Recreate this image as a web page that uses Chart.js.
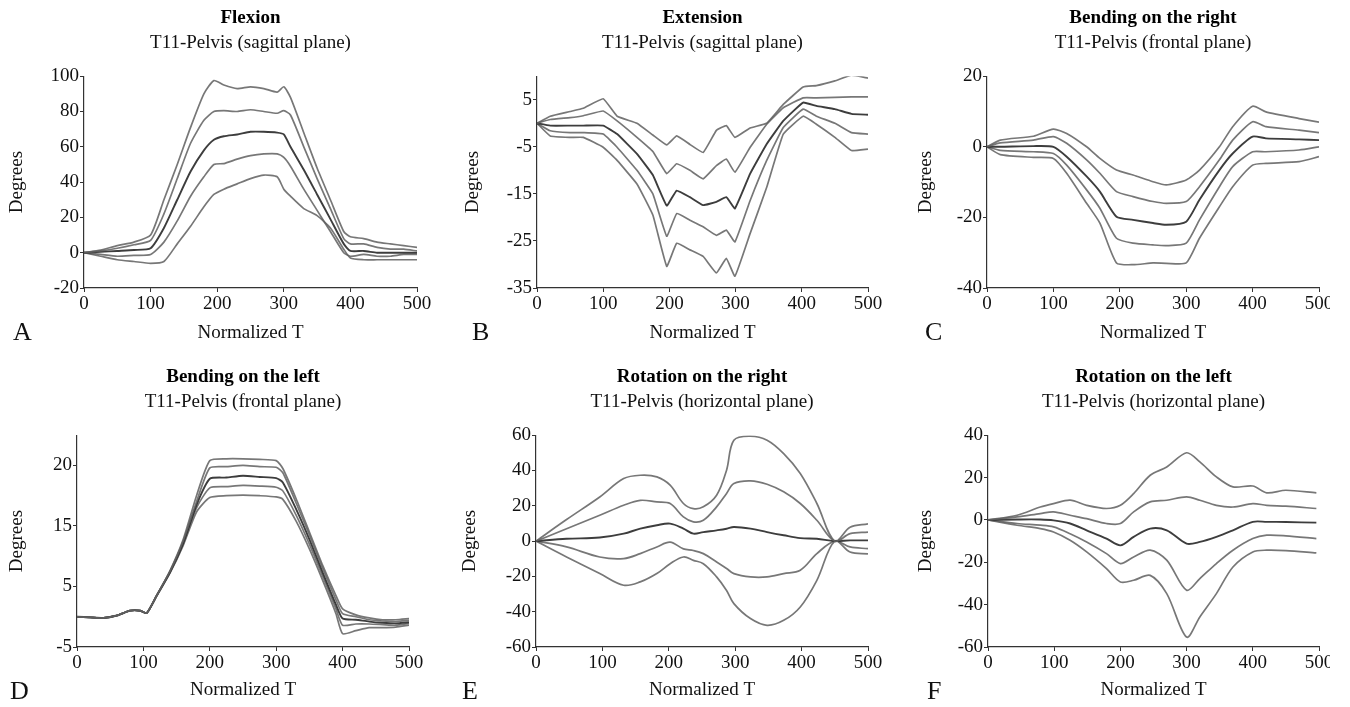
<!DOCTYPE html>
<html>
<head>
<meta charset="utf-8">
<script src="https://cdn.jsdelivr.net/npm/chart.js@4.4.0/dist/chart.umd.min.js"></script>
<style>
  body { margin: 0; background: #fff; }
  #fig { position: relative; width: 1350px; height: 707px; overflow: hidden; font-family: 'Liberation Serif', serif; }
  .panel { position: absolute; }
  .tag { position: absolute; font-size: 26px; line-height: 26px; color: #111; }
</style>
</head>
<body>
<div id="fig"></div>
<script>
// A - Flexion
var xA = [0, 25, 50, 75, 100, 120, 140, 160, 180, 195, 210, 230, 250, 270, 290, 300, 310, 330, 350, 370, 390, 400, 420, 440, 460, 480, 500];
var a1 = [0, 1.5, 4, 6, 10, 30, 50, 71, 90, 97.5, 95, 93, 94, 93, 91, 94, 88, 68, 48, 30, 12, 9, 8, 6, 5, 4, 3];
var a2 = [0, 1, 2.5, 4.5, 7, 22, 42, 62, 75, 80, 80.5, 80, 81, 80, 79, 80.5, 78, 60, 42, 25, 8, 5, 5, 3, 2, 2, 1];
var a3 = [0, 0.5, 1, 1.5, 2.5, 14, 30, 46, 58, 64, 66, 67, 68.5, 68.5, 68, 67, 60, 47, 33, 19, 5, 1, 1, 0, 0, 0, 0];
var a4 = [0, -1, -2, -1.5, -1, 6, 18, 32, 43, 50, 50.5, 53, 55, 56, 56, 54, 49, 36, 24, 12, 0, -2, -1, -2, -2, -1, -1];
var a5 = [0, -2, -4, -5, -6, -5, 5, 15, 26, 33, 36, 39, 42, 44, 43, 36, 32, 25, 21, 14, 2, -3, -4, -4, -4, -4, -4];

// B - Extension
var xB = [0, 20, 50, 70, 100, 121, 151, 175, 196, 211, 231, 251, 271, 286, 299, 322, 347, 372, 402, 422, 450, 475, 500];
var b1 = [0, 1.5, 2.5, 3.2, 5.2, 1.5, 0, -2.5, -4.6, -2.7, -4.5, -6.2, -1.5, -0.5, -3, -1, 0, 4, 7.7, 8, 9, 10.2, 9.6];
var b2 = [0, 0.8, 1.2, 1.6, 2.6, 0.5, -3, -6, -10.7, -8.6, -10, -11.8, -9, -7.6, -10.4, -5.1, -0.2, 3.3, 5.4, 5.4, 5.5, 5.6, 5.6];
var b3 = [0, -0.5, -0.5, -0.5, -0.5, -2.3, -6.5, -11, -17.5, -14.3, -15.7, -17.4, -16.7, -15.7, -18.1, -10.7, -4.4, 0.5, 4.4, 3.7, 3, 2, 1.8];
var b4 = [0, -1.6, -2, -2, -2.3, -5.1, -10, -15, -24, -19.2, -20.6, -22, -23.8, -22.7, -25.2, -16.4, -7.9, -0.9, 3, 1.5, 0, -2, -2.3];
var b5 = [0, -2.7, -3, -3, -5.1, -7.9, -12.9, -19.5, -30.4, -25.5, -26.9, -28.3, -31.8, -28.7, -32.5, -23.4, -13.6, -2.3, 1.5, -0.2, -3, -5.8, -5.5];
var bTicks = [-35, -25, -15, -5, 5];

// C - Bending on the right
var xC = [0, 20, 70, 100, 120, 150, 170, 195, 220, 250, 270, 300, 320, 350, 370, 400, 420, 470, 500];
var c1 = [0, 1.9, 3, 5, 3.8, 0, -3.3, -6.6, -8, -9.9, -10.8, -9.4, -6.6, 0, 5.7, 11.5, 9.9, 8, 7];
var c2 = [0, 1.1, 1.9, 2.9, 1, -3.7, -7.5, -12.7, -14.1, -15.5, -16, -15.5, -11.3, -3.7, 1.9, 7.1, 5.7, 4.7, 4];
var c3 = [0, 0, 0.2, 0, -2.8, -8.4, -12.7, -19.8, -20.7, -21.6, -22.1, -21.2, -15, -6.6, -1.9, 2.9, 2.4, 2.1, 1.9];
var c4 = [0, -1, -1.4, -1.9, -5.2, -12.2, -17.4, -25.9, -27.3, -27.8, -28, -27.3, -20.7, -11.3, -5.6, -1.4, -1.4, -0.9, 0];
var c5 = [0, -2.2, -3, -3.3, -7.5, -16, -21.6, -32.9, -33.4, -32.9, -33, -32.9, -25.9, -17, -11.3, -5.2, -4.7, -4.2, -2.8];

// D - Bending on the left (axis labels as printed in the source figure)
var xD = [0, 20, 40, 60, 80, 95, 105, 120, 140, 160, 180, 200, 225, 250, 275, 300, 310, 330, 350, 370, 390, 400, 420, 440, 460, 480, 500];
var d1 = [0, -0.1, -0.2, 0.2, 1, 1, 0.6, 3.5, 7.6, 12.8, 20, 25.8, 26.1, 26.1, 26, 25.8, 24.5, 19.5, 14, 8.5, 3.5, 1.3, 0.3, -0.2, -0.5, -0.5, -0.3];
var d2 = [0, -0.1, -0.2, 0.2, 1, 1, 0.6, 3.5, 7.5, 12.5, 19, 24.6, 24.8, 25, 24.8, 24.7, 23.8, 18.8, 13.5, 8, 2.8, 0.5, 0, -0.5, -0.7, -0.8, -0.6];
var d3 = [0, -0.1, -0.2, 0.2, 1, 1, 0.6, 3.5, 7.4, 12.2, 18.5, 22.8, 23, 23.3, 23.1, 22.9, 22.2, 17.8, 12.8, 7.3, 2, -0.3, -0.5, -0.8, -1, -1.1, -0.9];
var d4 = [0, -0.1, -0.2, 0.2, 1, 1, 0.6, 3.5, 7.3, 12, 18, 21.3, 21.5, 21.7, 21.6, 21.4, 20.8, 16.8, 12, 6.7, 1.3, -1.4, -1.2, -1.2, -1.3, -1.4, -1.1];
var d5 = [0, -0.1, -0.2, 0.2, 1, 1, 0.6, 3.4, 7.2, 11.8, 17.3, 19.7, 20, 20.1, 20, 19.8, 19.4, 15.8, 11.2, 6, 0.5, -2.8, -2.3, -1.8, -1.8, -1.7, -1.4];
var dTicks = [-5, 5, 15, 25];
var dTickLabels = ['-5', '5', '15', '20'];

// E - Rotation on the right
var xE = [0, 46, 96, 132, 157, 182, 202, 222, 237, 252, 272, 287, 298, 323, 348, 373, 398, 423, 450, 473, 500];
var e1 = [0, 12.2, 25, 35.4, 37.3, 36.4, 31.7, 21.3, 18.4, 19.4, 26, 40.2, 57.2, 59.4, 57.2, 49.6, 38.3, 21.3, 0, 7.9, 9.8];
var e2 = [0, 7, 14.6, 20.3, 23.1, 22.2, 21.3, 13.7, 10.9, 11.8, 19.4, 27, 32.6, 34.1, 32.2, 27.9, 21.3, 11.8, 0, 4.2, 5.1];
var e3 = [0, 1.3, 2, 4.2, 7.1, 9, 9.9, 7.1, 4.2, 5.1, 6.1, 7, 8, 7.1, 5.1, 3.3, 1.7, 1.3, 0, 0.4, 0.4];
var e4 = [0, -3.3, -9, -9.9, -7.1, -3.3, -0.6, -4.4, -5.3, -7.1, -11.8, -15.5, -18.4, -20.3, -20.3, -18.4, -16.5, -7.1, 0, -3.3, -4.3];
var e5 = [0, -9, -18.4, -25, -23.1, -18.4, -12.8, -9, -10.9, -12.8, -20.3, -28, -35.4, -43.9, -47.7, -44.9, -37.3, -22.2, 0, -6.2, -7.2];

// F - Rotation on the left
var xF = [0, 44, 79, 99, 124, 149, 179, 200, 220, 245, 270, 300, 320, 345, 370, 400, 421, 450, 496];
var f1 = [0, 2.2, 6.1, 7.7, 9.3, 6.9, 5.4, 6.9, 12.4, 21.1, 25, 31.7, 27.4, 20.3, 15.6, 16, 12.8, 14, 12.8];
var f2 = [0, 1.4, 3, 3.8, 2.2, 0.6, -1.7, -1.7, 3.8, 8.5, 9.3, 10.9, 9.3, 6.9, 6.1, 7.7, 6.9, 6.5, 5.4];
var f3 = [0, 0.2, 0.2, -0.2, -1.7, -4.9, -8.8, -12, -8, -4.1, -4.9, -11.2, -10.4, -8, -4.9, -0.9, -0.9, -1, -1.3];
var f4 = [0, -1.7, -2.5, -3.3, -6.5, -10.4, -15.9, -20.6, -17.5, -14.3, -19, -33.2, -27.7, -20.6, -14.3, -8.8, -7.2, -7.5, -8.8];
var f5 = [0, -2.5, -4.1, -5.7, -9.6, -15.1, -23, -29.3, -28.5, -26.2, -34.8, -55.3, -45.8, -34.8, -22.2, -15.1, -14.3, -14.5, -15.6];

var panels = [
  { tag: 'A', title: 'Flexion', sub: 'T11-Pelvis (sagittal plane)', x: xA, series: [a1, a2, a3, a4, a5],
    yMin: -20, yMax: 100, yStep: 20, tension: 0.2,
    left: 0, top: 0, w: 450, h: 350, plotLeft: 84, plotRight: 417, degX: 17, tagX: 13 },
  { tag: 'B', title: 'Extension', sub: 'T11-Pelvis (sagittal plane)', x: xB, series: [b1, b2, b3, b4, b5],
    yMin: -35, yMax: 10, yTicks: bTicks, tension: 0.1,
    left: 450, top: 0, w: 450, h: 350, plotLeft: 87, plotRight: 418, degX: 23, tagX: 22 },
  { tag: 'C', title: 'Bending on the right', sub: 'T11-Pelvis (frontal plane)', x: xC, series: [c1, c2, c3, c4, c5],
    yMin: -40, yMax: 20, yStep: 20, tension: 0.2,
    left: 900, top: 0, w: 430, h: 350, plotLeft: 87, plotRight: 419, degX: 26, tagX: 25 },
  { tag: 'D', title: 'Bending on the left', sub: 'T11-Pelvis (frontal plane)', x: xD, series: [d1, d2, d3, d4, d5],
    yMin: -5, yMax: 30, yTicks: dTicks, yLabels: dTickLabels, tension: 0.2,
    left: 0, top: 359, w: 450, h: 348, plotLeft: 77, plotRight: 409, degX: 17, tagX: 10 },
  { tag: 'E', title: 'Rotation on the right', sub: 'T11-Pelvis (horizontal plane)', x: xE, series: [e1, e2, e3, e4, e5],
    yMin: -60, yMax: 60, yStep: 20, tension: 0.35,
    left: 450, top: 359, w: 450, h: 348, plotLeft: 86, plotRight: 418, degX: 20, tagX: 12 },
  { tag: 'F', title: 'Rotation on the left', sub: 'T11-Pelvis (horizontal plane)', x: xF, series: [f1, f2, f3, f4, f5],
    yMin: -60, yMax: 40, yStep: 20, tension: 0.3,
    left: 900, top: 359, w: 430, h: 348, plotLeft: 88, plotRight: 419, degX: 26, tagX: 27 }
];

Chart.defaults.font.family = "'Liberation Serif', 'Times New Roman', serif";
Chart.defaults.color = '#111';

var PLOT_BOTTOM = 288; // bottom of plot inside each panel
var fig = document.getElementById('fig');

function toPoints(xs, ys) {
  return xs.map(function (x, i) { return { x: x, y: ys[i] }; });
}

panels.forEach(function (p) {
  var box = document.createElement('div');
  box.className = 'panel';
  box.style.left = p.left + 'px';
  box.style.top = p.top + 'px';
  box.style.width = p.w + 'px';
  box.style.height = p.h + 'px';
  var canvas = document.createElement('canvas');
  canvas.width = p.w;
  canvas.height = p.h;
  box.appendChild(canvas);
  fig.appendChild(box);

  var tag = document.createElement('div');
  tag.className = 'tag';
  tag.textContent = p.tag;
  tag.style.left = (p.left + p.tagX) + 'px';
  tag.style.top = (p.top + 319) + 'px';
  fig.appendChild(tag);

  var yTicks = { padding: 1, font: { size: 19 } };
  if (p.yStep) yTicks.stepSize = p.yStep;
  if (p.yLabels) {
    yTicks.callback = function (v) { return p.yLabels[p.yTicks.indexOf(v)]; };
  }

  new Chart(canvas, {
    type: 'line',
    data: {
      datasets: p.series.map(function (ys, i) {
        return {
          data: toPoints(p.x, ys),
          borderColor: i === 2 ? 'rgba(40,40,40,0.9)' : 'rgba(95,95,95,0.85)',
          borderWidth: i === 2 ? 1.9 : 1.7,
          pointRadius: 0,
          tension: p.tension,
          fill: false
        };
      })
    },
    options: {
      responsive: false,
      animation: false,
      devicePixelRatio: 1,
      layout: { padding: { left: 0, right: p.w - p.plotRight, top: 0, bottom: 0 } },
      plugins: {
        legend: { display: false },
        tooltip: { enabled: false },
        title: {
          display: true, text: p.title, color: '#000', fullSize: false,
          font: { size: 19, weight: 'bold' }, padding: { top: 7, bottom: 0 }
        },
        subtitle: {
          display: true, text: p.sub, color: '#111', fullSize: false,
          font: { size: 19 }, padding: { top: 2, bottom: 21.6 }
        }
      },
      scales: {
        x: {
          type: 'linear', min: 0, max: 500,
          ticks: { stepSize: 100, padding: 1, maxRotation: 0, font: { size: 19 } },
          grid: { drawOnChartArea: false, tickLength: 4, color: '#333' },
          border: { color: '#333', width: 1.2 },
          title: { display: true, text: 'Normalized T', font: { size: 19 }, padding: { top: 0, bottom: 6 } },
          afterFit: function (s) { s.height = p.h - PLOT_BOTTOM; s.paddingLeft = 0; s.paddingRight = 0; }
        },
        y: {
          min: p.yMin, max: p.yMax,
          ticks: yTicks,
          grid: { drawOnChartArea: false, tickLength: 4, color: '#333' },
          border: { color: '#333', width: 1.2 },
          title: { display: true, text: 'Degrees', font: { size: 19 }, padding: { top: p.degX - 11.4, bottom: 0 } },
          afterBuildTicks: function (s) {
            if (p.yTicks) s.ticks = p.yTicks.map(function (v) { return { value: v }; });
          },
          afterFit: function (s) { s.width = p.plotLeft; s.paddingTop = 0; s.paddingBottom = 0; }
        }
      }
    }
  });
});
</script>
</body>
</html>
